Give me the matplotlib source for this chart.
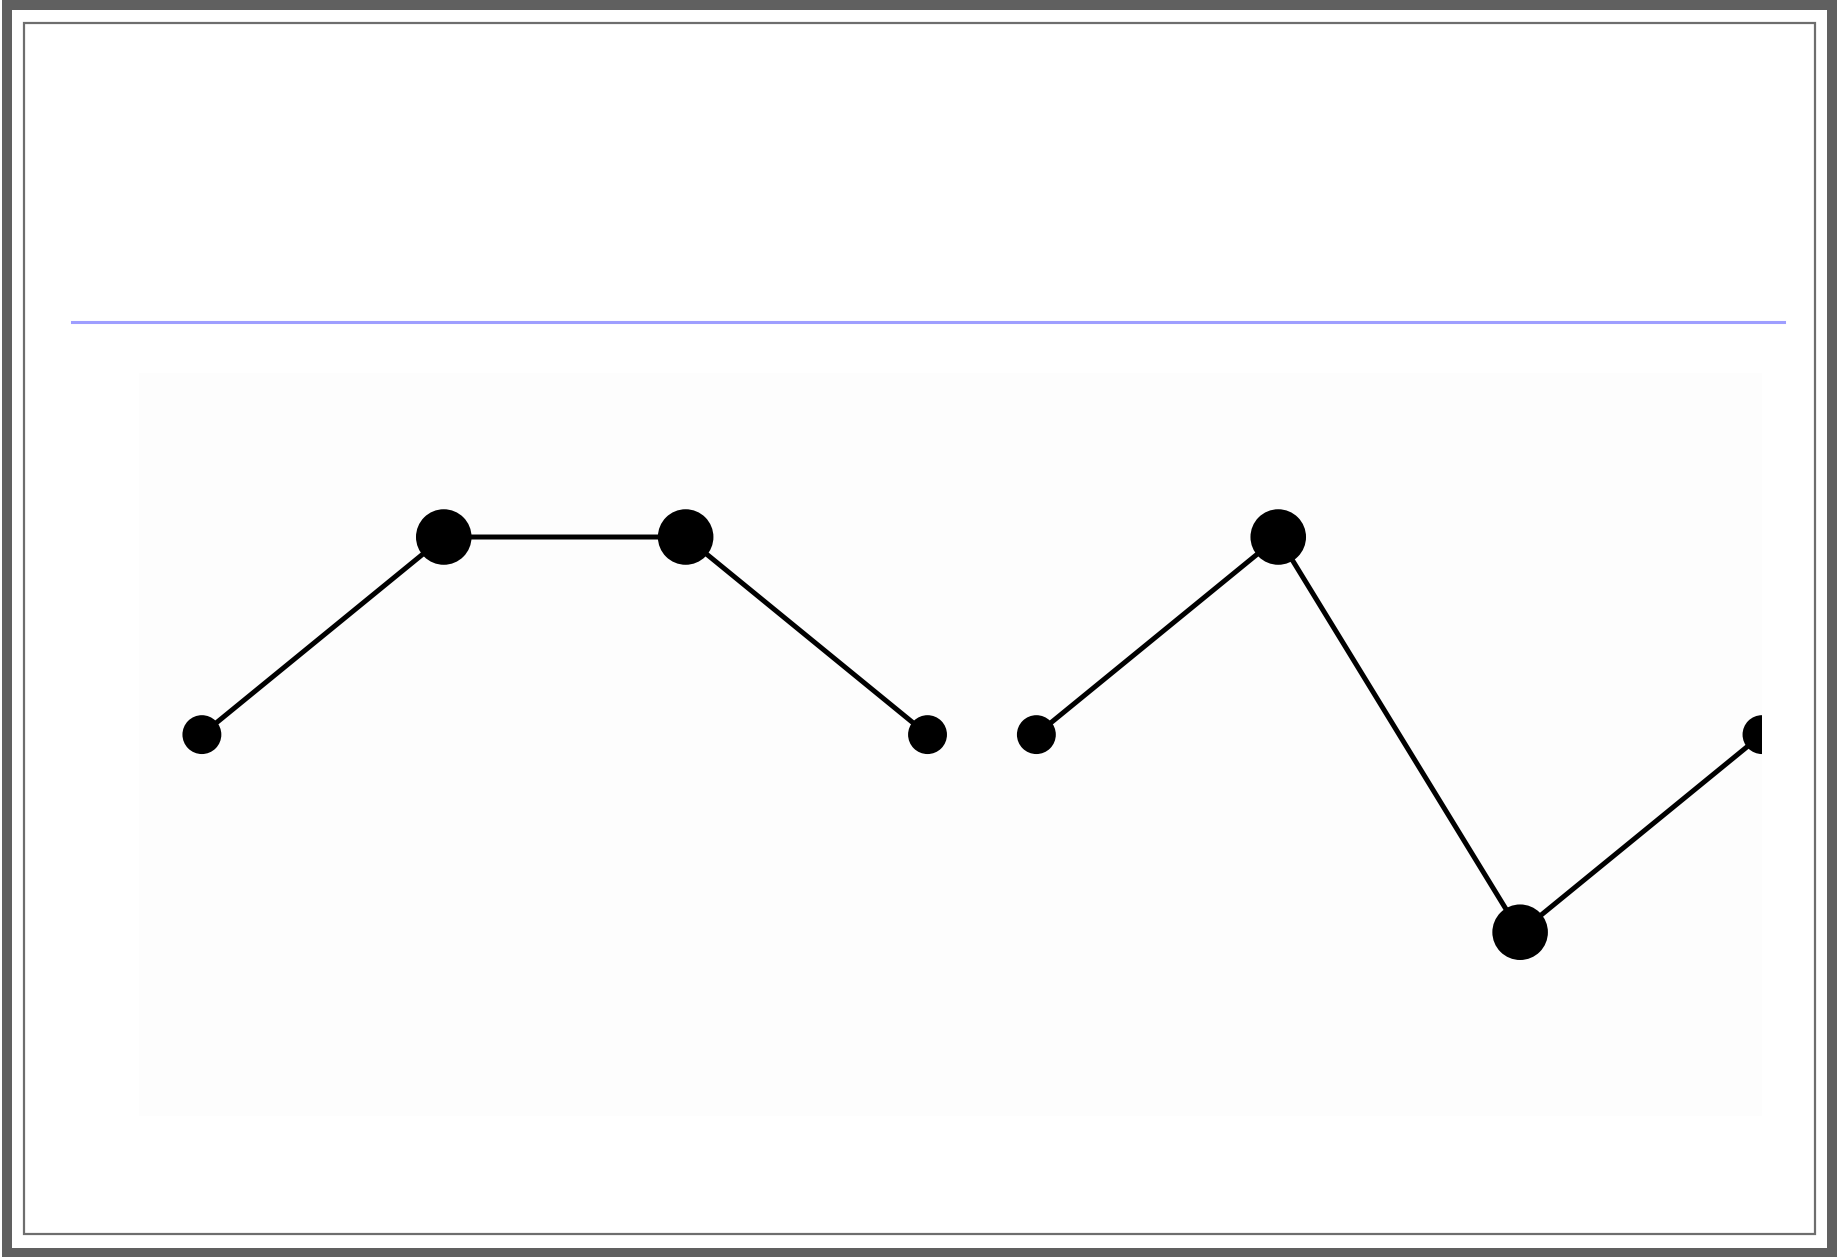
import matplotlib
matplotlib.use('Agg')
import matplotlib.pyplot as plt
from matplotlib.patches import Rectangle
from matplotlib.lines import Line2D

# data: two short runs, the second starts a little after the first
x_first = [0, 1, 2, 3]
y_first = [1, 2, 2, 1]
x_second = [3.45, 4.45, 5.45, 6.45]
y_second = [1, 2, 0, 1]
# marker weight per point (1 = small dot, 2 = big dot)
w_first = [1, 2, 2, 1]
w_second = [1, 2, 2, 1]

W, H = 1839, 1257
fig = plt.figure(figsize=(W / 100, H / 100), dpi=100)
fig.patch.set_facecolor('white')


def fx(px):
    return px / W


def fy(py):
    return 1 - py / H


# outer dark frame
fig.patches.append(Rectangle((fx(7), fy(1253)), fx(1832) - fx(7), fy(5) - fy(1253),
                             transform=fig.transFigure, fill=False,
                             edgecolor='#606060', linewidth=7.2))
# inner thin frame
fig.patches.append(Rectangle((fx(24), fy(1234)), fx(1815.5) - fx(24), fy(23) - fy(1234),
                             transform=fig.transFigure, fill=False,
                             edgecolor='#6e6e6e', linewidth=1.6))
# blue rule
fig.lines.append(Line2D([fx(72), fx(1784)], [fy(322), fy(322)],
                        transform=fig.transFigure, color='#9e9eff', linewidth=2.2))

# plot area
ax = fig.add_axes([fx(139), fy(1116), fx(1762) - fx(139), fy(373) - fy(1116)])
ax.set_facecolor('#fdfdfd')
for s in ax.spines.values():
    s.set_visible(False)
ax.set_xticks([])
ax.set_yticks([])

sizes = {1: 28 ** 2, 2: 40 ** 2}
for xs, ys, ws in [(x_first, y_first, w_first), (x_second, y_second, w_second)]:
    ax.plot(xs, ys, color='black', linewidth=3.6, zorder=2)
    ax.scatter(xs, ys, s=[sizes[w] for w in ws], color='black', marker='o',
               linewidths=0, zorder=3)

ax.set_xlim(-0.26, 6.45)
ax.set_ylim(-0.93, 2.83)

plt.savefig('out.png', dpi=100)
